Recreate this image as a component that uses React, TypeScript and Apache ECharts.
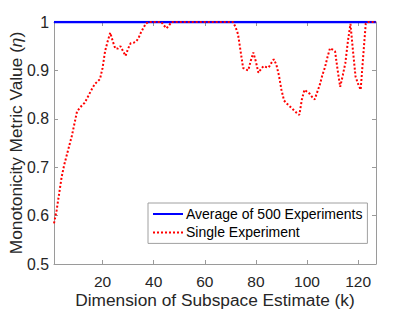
import React, { useEffect, useRef } from "react";
import * as echarts from "echarts";

const xTicks = [20, 40, 60, 80, 100, 120];
const yTicks = [0.5, 0.6, 0.7, 0.8, 0.9, 1];
const avgK = [1, 127];
const avgValues = [1, 1];
const singleValues = [
  0.584, 0.61, 0.645, 0.68, 0.705, 0.725, 0.745, 0.765, 0.79, 0.815,
  0.822, 0.828, 0.833, 0.843, 0.853, 0.863, 0.872, 0.877, 0.882, 0.905,
  0.94, 0.96, 0.978, 0.96, 0.945, 0.945, 0.95, 0.94, 0.93, 0.945,
  0.956, 0.957, 0.959, 0.966, 0.978, 0.988, 0.997, 1, 1, 1,
  1, 1, 1, 0.993, 0.987, 0.993, 1, 1, 1, 1,
  1, 1, 1, 1, 1, 1, 1, 1, 1, 1,
  1, 1, 1, 1, 1, 1, 1, 1, 1, 1,
  1, 0.99, 0.975, 0.94, 0.905, 0.902, 0.9, 0.92, 0.937, 0.918,
  0.895, 0.903, 0.909, 0.907, 0.906, 0.915, 0.923, 0.912, 0.89, 0.86,
  0.838, 0.832, 0.827, 0.822, 0.817, 0.812, 0.808, 0.84, 0.86, 0.856,
  0.852, 0.845, 0.84, 0.855, 0.87, 0.89, 0.906, 0.927, 0.946, 0.943,
  0.939, 0.9, 0.866, 0.89, 0.915, 0.96, 0.996, 0.94, 0.887, 0.872,
  0.86, 0.93, 0.997, 1, 1, 1, 1,
];

const FONT = "'Liberation Sans', Arial, Helvetica, sans-serif";
const AX = "#9a9a9a";
const TXT = "#262626";

export default function App() {
  const ref = useRef<HTMLDivElement>(null);
  useEffect(() => {
    if (!ref.current) return;
    const chart = echarts.init(ref.current, undefined, { renderer: "svg" });
    const xBase = {
      type: "value" as const,
      min: 1,
      max: 127,
      splitLine: { show: false },
      axisLine: { show: true, lineStyle: { color: AX, width: 1 } },
      axisTick: { inside: true, length: 4, customValues: xTicks, lineStyle: { color: AX } },
    };
    const yBase = {
      type: "value" as const,
      min: yTicks[0],
      max: yTicks[yTicks.length - 1],
      interval: 0.1,
      splitLine: { show: false },
      axisLine: { show: true, lineStyle: { color: AX, width: 1 } },
      axisTick: { inside: true, length: 4, lineStyle: { color: AX } },
    };
    chart.setOption({
      animation: false,
      backgroundColor: "#fff",
      grid: { left: 54, top: 22, right: 39, bottom: 48, outerBoundsMode: "none", containLabel: false },
      xAxis: [
        {
          ...xBase,
          position: "bottom",
          name: "Dimension of Subspace Estimate (k)",
          nameLocation: "middle",
          nameGap: 27,
          nameMoveOverlap: false,
          nameTextStyle: { fontFamily: FONT, fontSize: 17.3, color: TXT },
          axisLabel: {
            customValues: xTicks,
            fontFamily: FONT,
            fontSize: 15.5,
            color: TXT,
            margin: 9,
          },
        },
        { ...xBase, position: "top", axisLabel: { show: false } },
      ],
      yAxis: [
        {
          ...yBase,
          position: "left",
          name: "Monotonicity Metric Value ({i|η})",
          nameLocation: "middle",
          nameGap: 30,
          nameMoveOverlap: false,
          nameTextStyle: {
            fontFamily: FONT,
            fontSize: 17.3,
            color: TXT,
            rich: { i: { fontFamily: FONT, fontSize: 17.3, fontStyle: "italic", color: TXT } },
          },
          axisLabel: {
            fontFamily: FONT,
            fontSize: 15.8,
            color: TXT,
            margin: 5,
            formatter: (v: number) => String(Math.round(v * 10) / 10),
          },
        },
        { ...yBase, position: "right", axisLabel: { show: false } },
      ],
      legend: {
        orient: "vertical",
        left: 148,
        top: 203,
        padding: [4, 5, 4, 4],
        itemWidth: 30,
        itemHeight: 14,
        itemGap: 4.4,
        backgroundColor: "#fff",
        borderColor: "#a0a0a0",
        borderWidth: 1,
        borderRadius: 0,
        itemStyle: { opacity: 0 },
        textStyle: { fontFamily: FONT, fontSize: 14, color: "#000", padding: [0, 0, 0, -2] },
        data: ["Average of 500 Experiments", "Single Experiment"],
      },
      series: [
        {
          name: "Average of 500 Experiments",
          type: "line",
          symbol: "none",
          data: avgK.map((k, i) => [k, avgValues[i]]),
          lineStyle: { color: "#0000ff", width: 2.5 },
          itemStyle: { color: "#0000ff" },
          z: 2,
        },
        {
          name: "Single Experiment",
          type: "line",
          symbol: "none",
          data: singleValues.map((v, i) => [i + 1, v]),
          lineStyle: { color: "#ff0000", width: 2, type: [2, 2] },
          itemStyle: { color: "#ff0000" },
          z: 3,
        },
      ],
    });
    return () => chart.dispose();
  }, []);
  return (
    <div
      ref={ref}
      style={{ position: "absolute", left: 0, top: 0, width: 415, height: 312 }}
    />
  );
}
